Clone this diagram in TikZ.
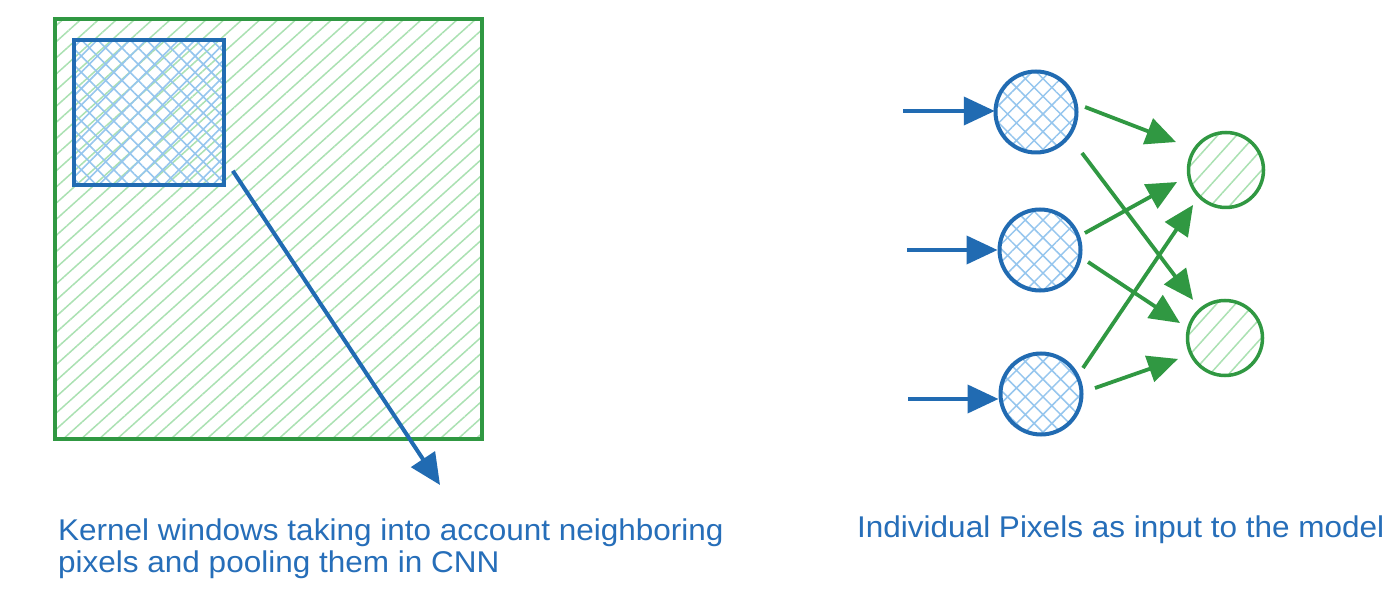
\documentclass[tikz,border=0pt]{standalone}
\usepackage{fontspec}
\setmainfont{Liberation Sans}
\newfontfamily\lblfont[FakeStretch=1.05]{Liberation Sans}
\usetikzlibrary{patterns.meta,arrows.meta,calc}
\definecolor{cblue}{RGB}{33,107,178}
\definecolor{cgreen}{RGB}{48,152,66}
\definecolor{hgreen}{RGB}{170,225,178}
\definecolor{hblue}{RGB}{150,198,238}
\definecolor{tblue}{RGB}{38,110,185}
\tikzset{
  bigbox/.style={draw=cgreen,line width=3.2pt,inner sep=0pt,
    pattern={Lines[angle=42,distance=12pt,line width=1.5pt]},pattern color=hgreen},
  kernbox/.style={draw=cblue,line width=4.5pt,inner sep=0pt,
    pattern={Hatch[angle=45,distance=11.5pt,line width=1.6pt]},pattern color=hblue},
  inpx/.style={circle,draw=cblue,line width=4pt,inner sep=0pt,minimum size=81pt,
    pattern={Hatch[angle=45,distance=12.5pt,line width=1.5pt]},pattern color=hblue},
  outpx/.style={circle,draw=cgreen,line width=3.5pt,inner sep=0pt,minimum size=75pt,
    pattern={Lines[angle=48,distance=14pt,line width=1.5pt]},pattern color=hgreen},
  barrow/.style={draw=cblue,line width=4pt,-{Triangle[length=31pt,width=28pt]}},
  garrow/.style={draw=cgreen,line width=3.8pt,-{Triangle[length=30pt,width=27pt]}},
  lbl/.style={text=tblue,anchor=base west,align=left,inner sep=0pt,font=\lblfont\fontsize{30}{32}\selectfont},
}
\begin{document}
\begin{tikzpicture}[x=1pt,y=-1pt]
\useasboundingbox[fill=white] (0,0) rectangle (1400,609);
% left: image and kernel window
\node[bigbox,minimum width=427pt,minimum height=420pt] (img) at (268.5,229) {};
\node[kernbox,minimum width=150pt,minimum height=145pt] (k) at (149,112.5) {};
\coordinate (ktip) at (440,485);
\draw[barrow] ([xshift=8pt,yshift=15pt]k.south east) -- (ktip);
\node[lbl] (t1) at (58,572) {Kernel windows taking into account neighboring\\pixels and pooling them in CNN};
% right: individual pixels
\node[inpx] (in1) at (1036,112) {};
\node[inpx] (in2) at (1040,250) {};
\node[inpx] (in3) at (1041,394) {};
\node[outpx] (oA) at (1226,170) {};
\node[outpx] (oB) at (1225,338) {};
\coordinate (s1) at (903,111);
\coordinate (s2) at (907,250);
\coordinate (s3) at (908,399);
\draw[barrow] (s1) -- (s1 -| in1.west);
\draw[barrow] (s2) -- (s2 -| in2.west);
\draw[barrow] (s3) -- ([yshift=-5pt]in3.west);
\draw[garrow] ([shift={(-5.8:49.3)}]in1.center) -- ([shift={(-150.8:57.3)}]oA.center);
\draw[garrow] ([shift={(41.7:61.6)}]in1.center) -- ([shift={(-130:49.7)}]oB.center);
\draw[garrow] ([shift={(-20.7:48)}]in2.center) -- ([shift={(-193.8:50.4)}]oA.center);
\draw[garrow] ([shift={(14:49.5)}]in2.center) -- ([shift={(-161.6:47.4)}]oB.center);
\draw[garrow] ([shift={(-31.8:49.4)}]in3.center) -- ([shift={(-226.7:48)}]oA.center);
\draw[garrow] ([shift={(-6.3:54.3)}]in3.center) -- ([shift={(-204:51.5)}]oB.center);
\node[lbl] (t2) at (857,537) {Individual Pixels as input to the model};
\end{tikzpicture}
\end{document}
